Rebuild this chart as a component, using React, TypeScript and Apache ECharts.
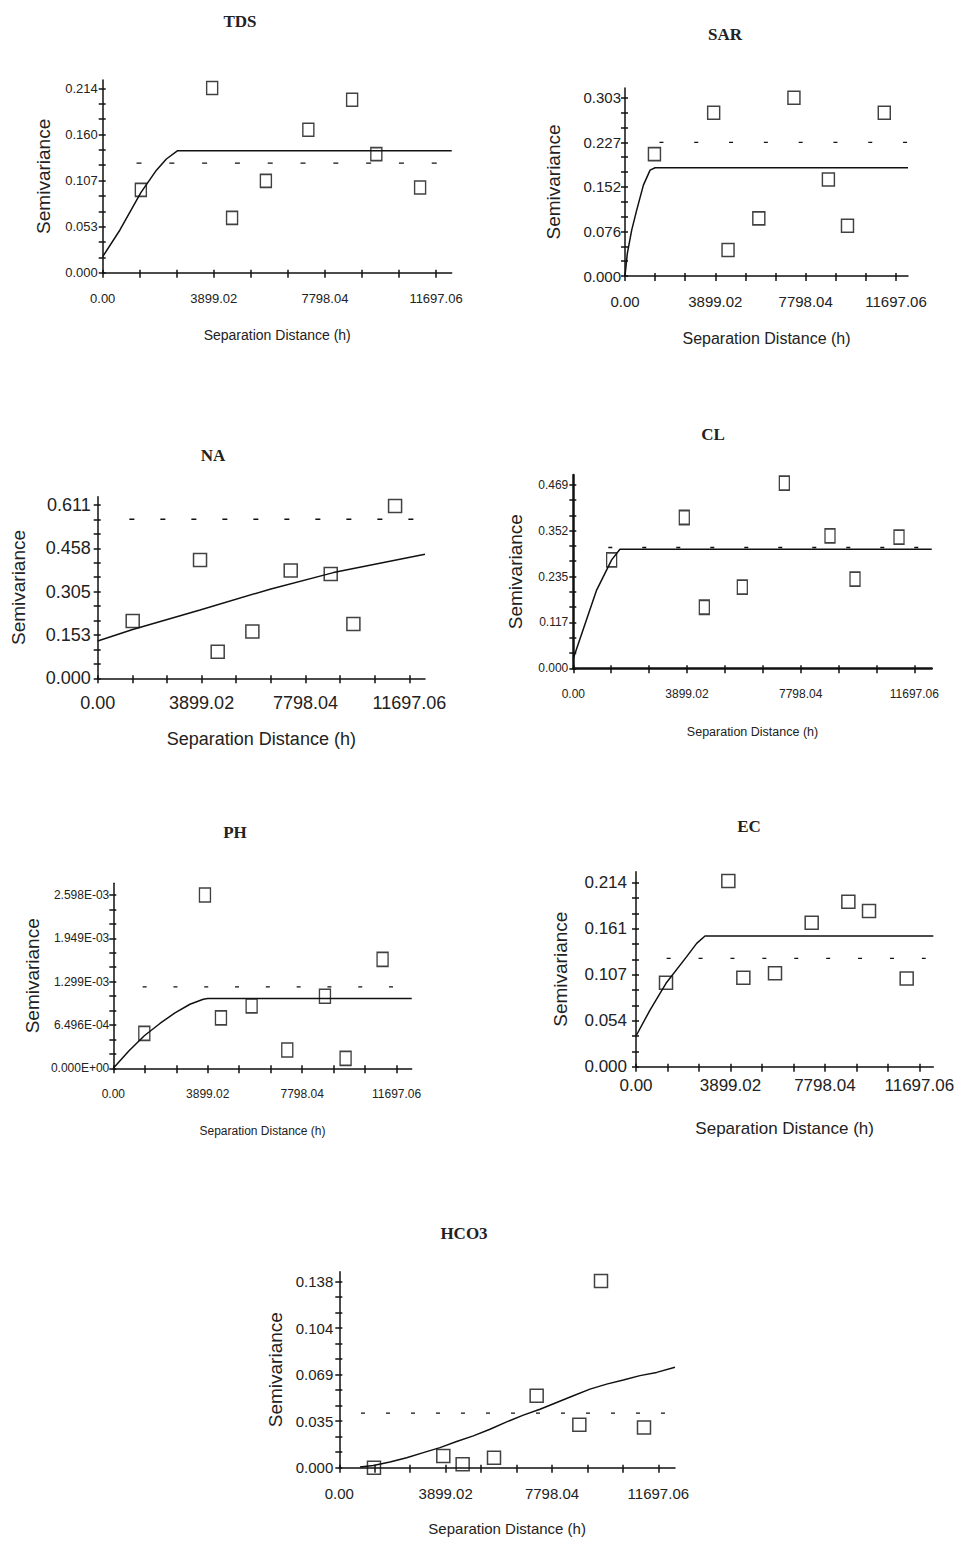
import React, { useEffect, useRef } from "react";
import * as echarts from "echarts";

// ---------- shared axis labels ----------
const xTickLabels = ["0.00", "3899.02", "7798.04", "11697.06"];
const xAxisName = "Separation Distance (h)";
const yAxisName = "Semivariance";

// ---------- TDS ----------
const tdsYLabels = ["0.000", "0.053", "0.107", "0.160", "0.214"];
const tdsLag = [1339, 3841, 4540, 5727, 7217, 8753, 9603, 11139];
const tdsGamma = [0.0961, 0.2144, 0.0636, 0.1066, 0.1659, 0.2008, 0.1376, 0.0989];
const tdsModelLag = [0, 605, 1339, 1886, 2235, 2619, 12248];
const tdsModelGamma = [0.0186, 0.0496, 0.093, 0.119, 0.132, 0.1415, 0.1415];
const tdsSill = 0.1272;
const tdsSillSpan = [1187, 11780];

// ---------- SAR ----------
const sarYLabels = ["0.000", "0.076", "0.152", "0.227", "0.303"];
const sarLag = [1271, 3827, 4448, 5776, 7292, 8779, 9603, 11191];
const sarGamma = [0.2071, 0.2773, 0.0441, 0.0979, 0.3028, 0.1641, 0.0855, 0.2773];
const sarModelLag = [0, 101, 289, 505, 794, 1083, 1300, 12215];
const sarModelGamma = [0, 0.0385, 0.078, 0.112, 0.1545, 0.18, 0.184, 0.184];
const sarSill = 0.227;
const sarSillSpan = [1487, 12231];

// ---------- NA ----------
const naYLabels = ["0.000", "0.153", "0.305", "0.458", "0.611"];
const naLag = [1313, 3840, 4503, 5804, 7243, 8744, 9595, 11159];
const naGamma = [0.2021, 0.4171, 0.094, 0.1645, 0.3795, 0.3678, 0.1915, 0.6074];
const naModelLag = [0, 1313, 3840, 6500, 8845, 12282];
const naModelGamma = [0.1316, 0.172, 0.241, 0.315, 0.3725, 0.437];
const naSill = 0.5605;
const naSillSpan = [1188, 11910];

// ---------- CL ----------
const clYLabels = ["0.000", "0.117", "0.235", "0.352", "0.469"];
const clLag = [1315, 3807, 4494, 5797, 7238, 8804, 9662, 11171];
const clGamma = [0.2771, 0.3854, 0.156, 0.2072, 0.4733, 0.3385, 0.2277, 0.3351];
const clModelLag = [0, 800, 1315, 1600, 12292];
const clModelGamma = [0.025, 0.2, 0.277, 0.3044, 0.3044];
const clSill = 0.3087;
const clSillSpan = [1200, 11834];

// ---------- PH ----------
const phYLabels = ["0.000E+00", "6.496E-04", "1.299E-03", "1.949E-03", "2.598E-03"];
const phLag = [1280, 3784, 4445, 5711, 7183, 8738, 9591, 11118];
const phGamma = [5.23e-4, 2.598e-3, 7.57e-4, 9.36e-4, 2.74e-4, 1.08e-3, 1.49e-4, 1.633e-3];
const phModelLag = [0, 640, 1280, 1926, 2546, 3165, 3715, 3900, 12320];
const phModelGamma = [0, 2.6e-4, 4.88e-4, 6.72e-4, 8.31e-4, 9.6e-4, 1.035e-3, 1.045e-3, 1.045e-3];
const phSill = 1.2195e-3;
const phSillSpan = [1211, 11655];

// ---------- EC ----------
const ecYLabels = ["0.000", "0.054", "0.107", "0.161", "0.214"];
const ecLag = [1239, 3812, 4432, 5739, 7253, 8767, 9620, 11175];
const ecGamma = [0.0977, 0.2159, 0.1035, 0.1086, 0.1675, 0.1919, 0.1811, 0.1027];
const ecModelLag = [0, 578, 1239, 2092, 2505, 2849, 12274];
const ecModelGamma = [0.0357, 0.0659, 0.097, 0.128, 0.1434, 0.152, 0.152];
const ecSill = 0.126;
const ecSillSpan = [1266, 11960];

// ---------- HCO3 ----------
const hco3YLabels = ["0.000", "0.035", "0.069", "0.104", "0.138"];
const hco3Lag = [1271, 3813, 4522, 5672, 7236, 8801, 9595, 11171];
const hco3Gamma = [0, 0.0087, 0.0025, 0.0074, 0.0534, 0.0318, 0.1385, 0.0298];
const hco3ModelLag = [758, 1247, 1858, 2469, 3080, 3691, 4302, 4913, 5525, 6136, 6747, 7358, 7969, 8580, 9191, 9802, 10413, 11024, 11635, 12308];
const hco3ModelGamma = [0.0005, 0.0017, 0.0042, 0.0074, 0.0112, 0.0149, 0.0194, 0.0236, 0.0285, 0.034, 0.039, 0.0434, 0.0484, 0.0534, 0.0583, 0.062, 0.065, 0.0683, 0.0707, 0.0745];
const hco3Sill = 0.0405;
const hco3SillSpan = [795, 11966];

const REGULAR = '"Liberation Sans", Arial, sans-serif';

type Panel = {
  title: string; titleX: number; titleY: number;
  left: number; top: number; width: number; height: number;
  xMax: number; yMax: number; yLabels: string[];
  lag: number[]; gamma: number[]; mLag: number[]; mGamma: number[];
  sill: number; sillSpan: number[]; dash: number[];
  tickSize: number; xNameSize: number;
  xNameGap: number; yNameGap: number; xLabelMargin: number; yLabelMargin: number;
  sym: number[]; axisW: number;
};

const panels: Panel[] = [
  { title: "TDS", titleX: 240, titleY: 21, left: 102.7, top: 80, width: 349, height: 192.7,
    xMax: 12248, yMax: 0.2237, yLabels: tdsYLabels, lag: tdsLag, gamma: tdsGamma,
    mLag: tdsModelLag, mGamma: tdsModelGamma, sill: tdsSill, sillSpan: tdsSillSpan, dash: [5, 27.8],
    tickSize: 13, xNameSize: 14, xNameGap: 55, yNameGap: 50,
    xLabelMargin: 19, yLabelMargin: 5, sym: [11, 13], axisW: 1.5 },
  { title: "SAR", titleX: 725, titleY: 34, left: 625, top: 88, width: 283, height: 188,
    xMax: 12215, yMax: 0.3195, yLabels: sarYLabels, lag: sarLag, gamma: sarGamma,
    mLag: sarModelLag, mGamma: sarModelGamma, sill: sarSill, sillSpan: sarSillSpan, dash: [4, 30.8],
    tickSize: 15, xNameSize: 16, xNameGap: 54, yNameGap: 62,
    xLabelMargin: 18, yLabelMargin: 4, sym: [12, 13], axisW: 1.5 },
  { title: "NA", titleX: 213, titleY: 455, left: 97.7, top: 496.7, width: 327.3, height: 181.6,
    xMax: 12282, yMax: 0.64, yLabels: naYLabels, lag: naLag, gamma: naGamma,
    mLag: naModelLag, mGamma: naModelGamma, sill: naSill, sillSpan: naSillSpan, dash: [5, 26],
    tickSize: 18, xNameSize: 18, xNameGap: 52, yNameGap: 70,
    xLabelMargin: 16, yLabelMargin: 7, sym: [13, 13], axisW: 1.5 },
  { title: "CL", titleX: 713, titleY: 434, left: 573.3, top: 475, width: 358.4, height: 193.3,
    xMax: 12292, yMax: 0.494, yLabels: clYLabels, lag: clLag, gamma: clGamma,
    mLag: clModelLag, mGamma: clModelGamma, sill: clSill, sillSpan: clSillSpan, dash: [4, 30],
    tickSize: 12, xNameSize: 12.5, xNameGap: 57, yNameGap: 48,
    xLabelMargin: 20, yLabelMargin: 5, sym: [10, 14], axisW: 2.5 },
  { title: "PH", titleX: 235, titleY: 832, left: 113.3, top: 883.3, width: 298.4, height: 185,
    xMax: 12320, yMax: 2.773e-3, yLabels: phYLabels, lag: phLag, gamma: phGamma,
    mLag: phModelLag, mGamma: phModelGamma, sill: phSill, sillSpan: phSillSpan, dash: [4, 26.8],
    tickSize: 12, xNameSize: 12, xNameGap: 57, yNameGap: 71,
    xLabelMargin: 20, yLabelMargin: 4, sym: [11, 14], axisW: 1.5 },
  { title: "EC", titleX: 749, titleY: 826, left: 636, top: 871.7, width: 297.3, height: 195,
    xMax: 12274, yMax: 0.2268, yLabels: ecYLabels, lag: ecLag, gamma: ecGamma,
    mLag: ecModelLag, mGamma: ecModelGamma, sill: ecSill, sillSpan: ecSillSpan, dash: [4, 27.9],
    tickSize: 17, xNameSize: 17, xNameGap: 53, yNameGap: 66,
    xLabelMargin: 10, yLabelMargin: 9, sym: [13, 13], axisW: 1.5 },
  { title: "HCO3", titleX: 464, titleY: 1233, left: 339.3, top: 1271.7, width: 335.7, height: 196,
    xMax: 12308, yMax: 0.1454, yLabels: hco3YLabels, lag: hco3Lag, gamma: hco3Gamma,
    mLag: hco3ModelLag, mGamma: hco3ModelGamma, sill: hco3Sill, sillSpan: hco3SillSpan, dash: [4, 21],
    tickSize: 15, xNameSize: 15, xNameGap: 53, yNameGap: 54,
    xLabelMargin: 18, yLabelMargin: 6, sym: [13, 13], axisW: 1.5 },
];

function buildOption() {
  const xLabelVals = xTickLabels.map(Number);
  const xStep = xLabelVals[1] / 3;
  const xTickVals = Array.from({ length: 3 * (xTickLabels.length - 1) + 1 }, (_, k) => k * xStep);

  const grid: any[] = [];
  const xAxis: any[] = [];
  const yAxis: any[] = [];
  const series: any[] = [];
  const graphic: any[] = [];

  panels.forEach((p, i) => {
    grid.push({ left: p.left, top: p.top, width: p.width, height: p.height, containLabel: false });
    const yTop = Number(p.yLabels[p.yLabels.length - 1]);
    const yLabStep = yTop / (p.yLabels.length - 1);
    const yLabelVals = p.yLabels.map((_, k) => k * yLabStep);
    const yTickVals = Array.from({ length: 3 * (p.yLabels.length - 1) + 1 }, (_, k) => (k * yLabStep) / 3);
    const black = "#111";

    xAxis.push({
      type: "value", gridIndex: i, position: "bottom", min: 0, max: p.xMax,
      axisLine: { show: true, onZero: false, lineStyle: { color: black, width: p.axisW } },
      axisTick: { show: true, customValues: xTickVals, length: 5, lineStyle: { color: black, width: 1.5 } },
      axisLabel: {
        show: true, customValues: xLabelVals, margin: p.xLabelMargin,
        fontFamily: REGULAR, fontSize: p.tickSize, color: "#222",
        formatter: (v: number) => xTickLabels[Math.round(v / xLabelVals[1])] ?? "",
      },
      splitLine: { show: false },
      name: xAxisName, nameLocation: "middle", nameGap: p.xNameGap,
      nameTextStyle: { fontFamily: REGULAR, fontSize: p.xNameSize, color: "#222" },
    });
    xAxis.push({
      type: "value", gridIndex: i, position: "bottom", offset: 0, min: 0, max: p.xMax,
      axisLine: { show: false, onZero: false },
      axisTick: { show: true, inside: true, customValues: xTickVals, length: 3, lineStyle: { color: black, width: 1.5 } },
      axisLabel: { show: false }, splitLine: { show: false },
    });
    yAxis.push({
      type: "value", gridIndex: i, position: "left", min: 0, max: p.yMax,
      axisLine: { show: true, onZero: false, lineStyle: { color: black, width: p.axisW } },
      axisTick: { show: true, customValues: yTickVals, length: 4, lineStyle: { color: black, width: 1.5 } },
      axisLabel: {
        show: true, customValues: yLabelVals, margin: p.yLabelMargin,
        fontFamily: REGULAR, fontSize: p.tickSize, color: "#222",
        formatter: (v: number) => p.yLabels[Math.round(v / yLabStep)] ?? "",
      },
      splitLine: { show: false },
      name: yAxisName, nameLocation: "middle", nameGap: p.yNameGap,
      nameTextStyle: { fontFamily: REGULAR, fontSize: 19, color: "#222" },
    });
    yAxis.push({
      type: "value", gridIndex: i, position: "left", offset: 0, min: 0, max: p.yMax,
      axisLine: { show: false, onZero: false },
      axisTick: { show: true, inside: true, customValues: yTickVals, length: 3, lineStyle: { color: black, width: 1.5 } },
      axisLabel: { show: false }, splitLine: { show: false },
    });

    series.push({
      type: "line", name: p.title + " sill", xAxisIndex: 2 * i, yAxisIndex: 2 * i,
      data: p.sillSpan.map((x) => [x, p.sill]), showSymbol: false, symbol: "none",
      lineStyle: { color: black, width: 1.3, type: p.dash }, z: 2, silent: true,
    });
    series.push({
      type: "line", name: p.title + " model", xAxisIndex: 2 * i, yAxisIndex: 2 * i,
      data: p.mLag.map((x, k) => [x, p.mGamma[k]]), showSymbol: false, symbol: "none",
      lineStyle: { color: black, width: 1.5 }, z: 3, silent: true,
    });
    series.push({
      type: "scatter", name: p.title, xAxisIndex: 2 * i, yAxisIndex: 2 * i,
      data: p.lag.map((x, k) => [x, p.gamma[k]]), symbol: "rect", symbolSize: p.sym,
      itemStyle: { color: "rgba(255,255,255,0)", borderColor: black, borderWidth: 1.5 }, z: 5, silent: true,
    });

    graphic.push({
      type: "text", x: p.titleX, y: p.titleY,
      style: {
        text: p.title, font: 'bold 17px "Liberation Serif", "Times New Roman", serif',
        fill: "#222", textAlign: "center", textVerticalAlign: "middle",
      },
    });
  });

  return { animation: false, backgroundColor: "#ffffff", grid, xAxis, yAxis, series, graphic };
}

export default function App() {
  const ref = useRef<HTMLDivElement>(null);
  useEffect(() => {
    if (!ref.current) return;
    const chart = echarts.init(ref.current, undefined, { renderer: "svg" });
    chart.setOption(buildOption() as any);
    return () => chart.dispose();
  }, []);
  return (
    <div
      ref={ref}
      style={{ position: "absolute", left: 0, top: 0, width: 959, height: 1546, background: "#fff" }}
    />
  );
}
